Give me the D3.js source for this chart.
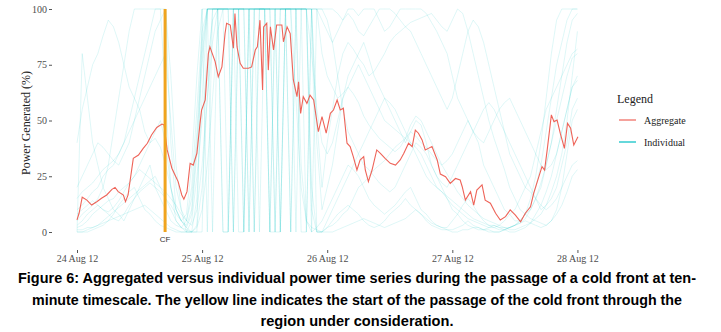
<!DOCTYPE html>
<html>
<head>
<meta charset="utf-8">
<script src="https://cdn.jsdelivr.net/npm/d3@7"></script>
<style>
body { margin: 0; background: #fff; }
svg { display: block; }
.serif, .serif text { font-family: "Liberation Serif", "Times New Roman", serif; }
</style>
</head>
<body>
<div id="chart"></div>
<script>
// start of the series, 24 Aug 2012 00:00
var startTime = Date.UTC(2012, 7, 24);
var endHour = 96.3;

// aggregate power (%), hours after start
var aggHours = [0, 0.4, 1.0, 1.9, 2.8, 3.8, 4.7, 5.7, 6.7, 7.3, 7.9, 8.9, 9.3, 9.8, 10.3, 10.8, 11.8, 12.7, 13.5, 14.3,
  15.3, 16.3, 16.7, 17.3, 18.2, 18.8, 19.4, 20.1, 20.5, 21.1, 21.7, 22.3, 23.0, 23.6, 23.9, 24.6, 25.2, 25.5, 26.5, 27.1,
  27.8, 28.4, 28.7, 29.4, 30.0, 30.3, 30.7, 31.3, 31.9, 32.9, 33.5, 34.2, 34.6, 35.1, 35.6, 35.8, 36.4, 36.7, 37.1, 37.7,
  38.3, 39.3, 39.6, 40.3, 40.9, 41.5, 42.2, 42.5, 42.9, 43.4, 44.1, 44.7, 45.4, 46.3, 47.0, 47.8, 48.6, 49.2, 49.9, 50.5,
  51.1, 51.8, 52.4, 53.0, 53.7, 54.3, 55.0, 55.3, 55.9, 56.6, 57.5, 58.2, 59.1, 60.1, 61.1, 62.0, 62.7, 63.6, 64.3, 64.9,
  65.5, 66.2, 66.8, 67.4, 68.1, 69.1, 69.7, 70.7, 71.6, 72.6, 73.5, 73.9, 74.5, 75.5, 76.1, 76.7, 77.7, 78.3, 79.3, 80.3,
  81.2, 82.2, 83.1, 84.1, 85.1, 86.0, 87.0, 87.6, 88.6, 89.2, 89.7, 90.2, 91.0, 91.5, 92.1, 92.7, 93.5, 94.1, 94.7, 95.3, 96.1];
var aggValues = [5.4, 8.4, 15.6, 14.3, 12.1, 13.6, 15.1, 16.6, 19.1, 20, 18.1, 16.6, 13.6, 16.6, 24.8, 33, 34.5, 37.5, 39.8, 43.5,
  46.9, 48.4, 48, 36.8, 28.6, 25.6, 22.6, 16.6, 14.7, 18.1, 30.8, 30, 35.3, 48.7, 54.7, 59.2, 80, 83, 76.4, 69.6,
  74, 89, 93.6, 92.8, 82.4, 98, 83, 75.6, 73.4, 73.4, 74, 81.6, 83, 95, 63.7, 92, 93.6, 72.6, 92, 81.6,
  92.8, 92.8, 85.3, 92, 89, 68.2, 60.7, 67.4, 53.2, 60.7, 57.7, 61.4, 59.2, 45, 51.7, 44.3, 53.2, 54.7, 59.2, 54.7,
  55.5, 39.8, 38.3, 33.8, 27.8, 32.3, 33.8, 27.8, 22.6, 27.8, 36.8, 35.3, 33, 30.8, 30, 32.3, 35.3, 39.8, 38.3, 45.7,
  44.3, 41.3, 36.8, 37.5, 38.3, 32.3, 26, 24.8, 21.8, 24, 23.3, 20.3, 14.3, 18.1, 12.1, 18.8, 21.1, 14.3, 12.9, 8.4,
  5.4, 6.9, 9.9, 7.6, 4.6, 8.4, 11.3, 17.3, 24.8, 29.3, 27.8, 36.8, 52.5, 49.5, 50.2, 44.3, 37.5, 48.7, 46.5, 39, 42.7];

// individual farms (%), hourly from 24 Aug 00:00 to 28 Aug 00:00
var ind01 = [2,3,5,8,10,12,14,15,18,20,22,25,30,35,40,45,50,40,20,10,5,8,30,70,
  100,100,100,100,100,100,100,100,100,100,100,100,100,100,100,100,100,100,100,100,100,100,100,100,
  100,100,98,95,100,100,97,100,100,100,95,90,92,96,100,100,100,100,100,98,94,90,85,80,
  70,60,55,50,45,40,30,25,20,15,10,8,5,5,8,12,20,30,45,60,75,85,95,100,100];
var ind02 = [40,55,65,75,80,88,95,92,85,75,65,60,55,45,40,42,38,30,20,10,5,3,10,40,
  80,100,100,100,0,0,100,100,100,0,100,100,100,100,0,100,100,100,60,20,5,0,2,5,
  10,15,20,25,30,28,25,20,15,12,10,8,10,12,15,18,20,15,10,8,5,3,2,2,
  5,8,12,15,12,8,5,3,2,1,1,2,3,5,8,10,15,20,30,40,55,70,85,95,98];
var ind03 = [5,8,10,12,15,20,30,45,60,75,90,100,100,100,100,100,100,60,20,5,2,0,0,15,
  60,100,100,100,100,100,100,100,0,100,100,100,100,100,0,0,100,100,100,100,100,100,40,10,
  20,30,45,60,70,75,80,85,78,70,65,60,55,50,45,40,45,50,48,40,30,25,20,15,
  12,10,8,6,5,4,3,2,2,3,5,8,10,15,20,25,35,45,55,60,65,70,75,80,82];
var ind04 = [0,80,60,40,30,20,15,10,8,5,10,15,20,25,30,20,15,10,5,3,2,5,20,55,
  90,100,100,100,100,100,0,100,100,100,100,100,100,100,100,100,100,100,100,0,0,100,100,100,
  95,85,70,55,45,40,35,30,28,25,22,20,18,20,25,30,35,40,38,35,30,25,22,20,
  25,30,35,40,45,50,55,58,55,50,45,40,35,30,25,20,15,10,12,15,20,30,40,55,60];
var ind05 = [0,0,0,1,2,3,5,8,12,15,18,20,15,10,8,5,3,2,1,0,0,0,5,25,
  50,75,95,100,100,100,100,0,0,100,100,100,100,0,100,100,100,100,100,100,100,20,0,0,
  2,5,8,10,12,10,8,5,3,2,3,5,8,10,12,15,12,10,8,5,3,2,1,1,
  1,2,3,5,3,2,1,0,0,0,1,2,3,5,8,15,25,40,60,80,95,100,100,100,100];
var ind06 = [10,12,15,18,20,25,28,30,35,40,45,50,55,60,65,70,75,80,50,20,10,5,15,45,
  85,100,100,100,100,100,100,100,100,100,100,100,100,100,100,100,100,100,100,100,100,100,100,95,
  90,85,90,95,98,95,90,88,92,96,100,100,100,98,95,92,90,85,80,75,70,65,60,55,
  60,70,80,90,95,92,85,75,65,55,45,35,30,25,20,18,15,12,10,12,15,20,25,30,32];
var ind07 = [3,5,8,10,12,10,8,6,5,8,12,15,18,20,22,20,18,15,12,8,5,2,0,0,
  0,100,0,100,0,0,100,100,0,100,0,100,100,0,100,0,100,0,100,100,0,100,0,0,
  5,10,15,20,25,30,35,40,45,50,55,60,58,55,50,45,40,35,30,25,22,20,18,15,
  10,8,5,3,2,1,1,2,3,2,1,0,0,1,2,4,8,12,18,25,35,45,55,65,70];
var ind08 = [8,10,12,14,12,10,9,11,14,18,22,25,28,26,24,22,20,18,15,12,8,5,3,10,
  30,60,85,100,100,100,100,100,100,0,100,100,100,100,100,100,100,0,100,100,100,80,55,40,
  35,40,50,60,65,62,58,52,48,45,42,40,38,36,38,42,48,52,50,45,40,35,30,26,
  22,18,15,12,10,8,6,5,4,3,2,2,3,4,6,10,15,22,30,40,50,60,70,78,80];
var ind09 = [15,18,20,22,25,28,30,32,35,40,50,60,70,80,90,100,100,100,40,10,5,2,8,35,
  75,100,100,100,100,100,100,100,100,100,100,0,100,100,100,100,100,100,100,100,100,100,50,20,
  40,55,70,80,85,82,78,75,70,72,76,80,85,88,90,92,94,95,96,97,98,95,92,90,
  95,100,98,90,80,70,60,50,42,35,28,20,15,10,8,6,5,4,3,5,10,20,35,50,55];
var ind10 = [0,0,1,2,3,5,7,9,11,13,15,17,19,21,23,25,20,15,10,5,2,1,0,3,
  20,60,100,100,100,0,100,100,100,100,100,100,100,100,100,100,100,100,100,30,5,2,1,0,
  2,3,5,8,10,15,20,22,25,28,30,32,35,38,40,42,45,43,40,38,35,32,30,32,
  35,40,45,50,45,42,40,45,50,55,58,60,55,50,45,40,35,30,28,30,35,45,55,65,68];
var ind11 = [1,1,2,2,3,4,5,6,7,8,9,10,11,12,10,8,6,4,2,1,0,0,0,2,
  10,30,60,90,100,100,100,100,100,100,100,100,100,0,0,100,100,100,100,100,100,10,0,0,
  0,0,1,2,3,4,5,6,5,4,3,2,3,4,5,6,8,10,8,6,4,3,2,1,
  0,0,1,1,2,2,1,1,0,0,1,2,3,4,5,4,3,2,3,5,8,12,18,25,28];
var ind12 = [20,25,30,35,40,38,35,32,30,35,40,50,60,70,80,90,95,100,70,30,10,0,0,0,
  100,0,100,100,100,100,0,100,100,100,0,100,100,100,100,0,100,100,0,100,100,0,100,80,
  70,65,60,62,65,70,75,70,65,60,55,50,48,46,44,42,40,38,35,30,25,20,18,16,
  14,12,10,8,6,5,4,3,3,2,2,1,1,2,3,4,6,8,12,18,25,35,50,70,90];
var individuals = [ind01, ind02, ind03, ind04, ind05, ind06, ind07, ind08, ind09, ind10, ind11, ind12];

var yTicks = [0, 25, 50, 75, 100];
var dayTicks = ['2012-08-24', '2012-08-25', '2012-08-26', '2012-08-27', '2012-08-28'];
var cfHour = 16.9;
var legendItems = ['Aggregate', 'Individual'];
var caption = [
  'Figure 6: Aggregated versus individual power time series during the passage of a cold front at ten-',
  'minute timescale. The yellow line indicates the start of the passage of the cold front through the',
  'region under consideration.'
];

var width = 721, height = 332;
var serif = '"Liberation Serif", "Times New Roman", serif';
var toDate = function (h) { return new Date(startTime + h * 3600e3); };

var svg = d3.select('#chart').append('svg')
  .attr('width', width)
  .attr('height', height);

var x = d3.scaleUtc()
  .domain([toDate(0), toDate(endHour)])
  .range([77, 579]);
var y = d3.scaleLinear()
  .domain([0, 100])
  .range([232, 9]);

var color = d3.scaleOrdinal().domain(legendItems).range(['#ee6459', '#00bfc4']);

// individual lines
var indLine = d3.line()
  .x(function (d, i) { return x(toDate(i)); })
  .y(function (d) { return y(d); });

svg.append('g').selectAll('path')
  .data(individuals)
  .enter().append('path')
  .attr('d', indLine)
  .attr('fill', 'none')
  .attr('stroke', color('Individual'))
  .attr('stroke-width', 0.6)
  .attr('stroke-opacity', 0.22);

// aggregate line
var aggLine = d3.line()
  .x(function (d) { return x(toDate(d[0])); })
  .y(function (d) { return y(d[1]); });

svg.append('path')
  .datum(d3.zip(aggHours, aggValues))
  .attr('d', aggLine)
  .attr('fill', 'none')
  .attr('stroke', color('Aggregate'))
  .attr('stroke-width', 1.1);

// cold front marker
svg.append('line')
  .attr('x1', x(toDate(cfHour))).attr('x2', x(toDate(cfHour)))
  .attr('y1', y(100)).attr('y2', y(0))
  .attr('stroke', '#f0a41e')
  .attr('stroke-width', 3);
svg.append('text')
  .attr('x', x(toDate(cfHour)))
  .attr('y', 242)
  .attr('text-anchor', 'middle')
  .attr('font-family', '"Liberation Sans", Arial, sans-serif')
  .attr('font-size', 8)
  .attr('fill', '#333')
  .text('CF');

// axes
var yAxis = svg.append('g')
  .attr('transform', 'translate(52,0)')
  .call(d3.axisLeft(y).tickValues(yTicks).tickSize(3).tickPadding(2));
var xAxis = svg.append('g')
  .attr('transform', 'translate(0,250)')
  .call(d3.axisBottom(x)
    .tickValues(dayTicks.map(function (d) { return new Date(d + 'T00:00:00Z'); }))
    .tickFormat(d3.utcFormat('%d %b %y'))
    .tickSize(3).tickPadding(2));
[yAxis, xAxis].forEach(function (a) {
  a.attr('class', 'serif').attr('font-size', 10);
  a.select('.domain').remove();
  a.selectAll('line').attr('stroke', '#555');
  a.selectAll('text')
    .attr('fill', '#4d4d4d')
    .style('font-family', serif);
});

svg.append('text')
  .attr('class', 'serif')
  .attr('transform', 'translate(30,123) rotate(-90)')
  .attr('text-anchor', 'middle')
  .attr('fill', '#222')
  .attr('font-size', 12)
  .text('Power Generated (%)');

// legend
var legend = svg.append('g')
  .attr('class', 'serif')
  .attr('transform', 'translate(617,0)');
legend.append('text')
  .attr('x', 0).attr('y', 103)
  .attr('fill', '#222')
  .attr('font-size', 12)
  .text('Legend');
var items = legend.selectAll('.item')
  .data(legendItems)
  .enter().append('g')
  .attr('class', 'item')
  .attr('transform', function (d, i) { return 'translate(0,' + (120 + i * 22) + ')'; });
items.append('line')
  .attr('x1', 2).attr('x2', 19)
  .attr('stroke', function (d) { return color(d); })
  .attr('stroke-width', 1.2);
items.append('text')
  .attr('x', 27).attr('y', 3.5)
  .attr('fill', '#222')
  .attr('font-size', 10)
  .text(function (d) { return d; });

// caption, stretched to the widths of the original lines
var captionWidths = [678, 650, 193];
svg.append('g').selectAll('text')
  .data(caption)
  .enter().append('text')
  .attr('x', 357)
  .attr('y', function (d, i) { return 283 + i * 21.5; })
  .attr('text-anchor', 'middle')
  .attr('fill', '#000')
  .attr('font-family', '"Liberation Sans", Arial, sans-serif')
  .attr('font-weight', 'bold')
  .attr('font-size', 14.5)
  .attr('textLength', function (d, i) { return captionWidths[i]; })
  .attr('lengthAdjust', 'spacingAndGlyphs')
  .text(function (d) { return d; });
</script>
</body>
</html>
